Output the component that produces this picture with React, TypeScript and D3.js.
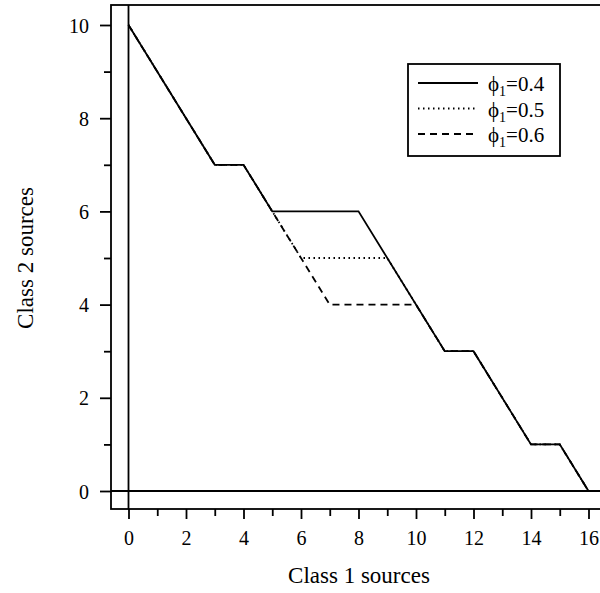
import React, { useEffect, useRef } from "react";
import * as d3 from "d3";

// class 1 sources (x) and class 2 sources (y) for each phi_1
const xs04 = [0, 3, 4, 5, 8, 11, 12, 14, 15, 16];
const ys04 = [10, 7, 7, 6, 6, 3, 3, 1, 1, 0];
const xs05 = [0, 3, 4, 6, 9, 11, 12, 14, 15, 16];
const ys05 = [10, 7, 7, 5, 5, 3, 3, 1, 1, 0];
const xs06 = [0, 3, 4, 7, 10, 11, 12, 14, 15, 16];
const ys06 = [10, 7, 7, 4, 4, 3, 3, 1, 1, 0];

const seriesNames = ["0.4", "0.5", "0.6"];
const seriesDash = [null, "1.5,3.5", "7,5"];

const xTicks = [0, 2, 4, 6, 8, 10, 12, 14, 16];
const yTicks = [0, 2, 4, 6, 8, 10];

const W = 600;
const H = 593;
const FONT = "'Liberation Serif', 'Times New Roman', serif";
const LW = 1.8;

const App = () => {
  const svgRef = useRef(null);

  useEffect(() => {
    const svg = d3.select(svgRef.current);
    svg.selectAll("*").remove();

    const box = { left: 111, top: 5, right: 640, bottom: 509 };

    const x = d3.scaleLinear().domain([0, 16]).range([128.5, 588.5]);
    const y = d3.scaleLinear().domain([0, 10]).range([491, 25]);

    const data = [
      d3.zip(xs04, ys04),
      d3.zip(xs05, ys05),
      d3.zip(xs06, ys06),
    ];

    // frame
    svg.append("rect")
      .attr("x", box.left)
      .attr("y", box.top)
      .attr("width", box.right - box.left)
      .attr("height", box.bottom - box.top)
      .attr("fill", "none")
      .attr("stroke", "black")
      .attr("stroke-width", LW);

    // reference lines at x=0 and y=0
    svg.append("line")
      .attr("x1", x(0)).attr("x2", x(0))
      .attr("y1", box.top).attr("y2", box.bottom)
      .attr("stroke", "black").attr("stroke-width", LW);
    svg.append("line")
      .attr("x1", box.left).attr("x2", box.right)
      .attr("y1", y(0)).attr("y2", y(0))
      .attr("stroke", "black").attr("stroke-width", LW);

    // x axis
    const xAxis = svg.append("g")
      .attr("transform", `translate(0,${box.bottom})`);
    xAxis.call(
      d3.axisBottom(x)
        .tickValues(d3.range(0, 17))
        .tickSize(0)
        .tickFormat(() => "")
    );
    xAxis.select(".domain").remove();
    xAxis.selectAll(".tick line")
      .attr("y2", d => (d % 2 === 0 ? 10 : 7))
      .attr("stroke-width", LW);
    xAxis.selectAll(".tick")
      .filter(d => xTicks.includes(d))
      .append("text")
      .attr("y", 36)
      .attr("fill", "black")
      .attr("text-anchor", "middle")
      .style("font-family", FONT)
      .style("font-size", "20px")
      .text(d => d);

    // y axis
    const yAxis = svg.append("g")
      .attr("transform", `translate(${box.left},0)`);
    yAxis.call(
      d3.axisLeft(y)
        .tickValues(d3.range(0, 11))
        .tickSize(0)
        .tickFormat(() => "")
    );
    yAxis.select(".domain").remove();
    yAxis.selectAll(".tick line")
      .attr("x2", d => (d % 2 === 0 ? -11 : -7))
      .attr("stroke-width", LW);
    yAxis.selectAll(".tick")
      .filter(d => yTicks.includes(d))
      .append("text")
      .attr("x", -22)
      .attr("dy", "0.35em")
      .attr("fill", "black")
      .attr("text-anchor", "end")
      .style("font-family", FONT)
      .style("font-size", "20px")
      .text(d => d);

    // axis titles
    svg.append("text")
      .attr("x", 359)
      .attr("y", 583)
      .attr("text-anchor", "middle")
      .style("font-family", FONT)
      .style("font-size", "23px")
      .text("Class 1 sources");
    svg.append("text")
      .attr("transform", `translate(33,258) rotate(-90)`)
      .attr("text-anchor", "middle")
      .style("font-family", FONT)
      .style("font-size", "23px")
      .text("Class 2 sources");

    // lines
    const line = d3.line().x(d => x(d[0])).y(d => y(d[1]));
    const order = [2, 1, 0];
    order.forEach(i => {
      svg.append("path")
        .datum(data[i])
        .attr("d", line)
        .attr("fill", "none")
        .attr("stroke", "black")
        .attr("stroke-width", LW)
        .attr("stroke-dasharray", seriesDash[i]);
    });

    // legend
    const lg = svg.append("g").attr("transform", "translate(408,64)");
    lg.append("rect")
      .attr("width", 152)
      .attr("height", 92)
      .attr("fill", "white")
      .attr("stroke", "black")
      .attr("stroke-width", LW);
    seriesNames.forEach((name, i) => {
      const ry = 19 + i * 25.5;
      lg.append("line")
        .attr("x1", 10).attr("x2", 70)
        .attr("y1", ry).attr("y2", ry)
        .attr("stroke", "black")
        .attr("stroke-width", LW)
        .attr("stroke-dasharray", seriesDash[i]);
      const t = lg.append("text")
        .attr("x", 80)
        .attr("y", ry + 8)
        .style("font-family", FONT)
        .style("font-size", "21px");
      t.append("tspan").text("\u03d5");
      t.append("tspan").attr("dy", 5).style("font-size", "14px").text("1");
      t.append("tspan").attr("dy", -5).text("=" + name);
    });
  }, []);

  return (
    <svg
      ref={svgRef}
      width={W}
      height={H}
      style={{ position: "absolute", left: 0, top: 0, background: "white" }}
    />
  );
};

export default App;
